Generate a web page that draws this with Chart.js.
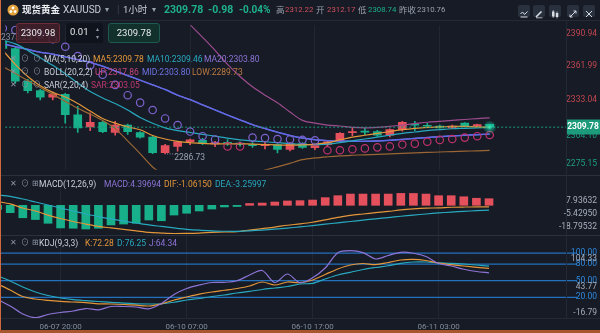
<!DOCTYPE html>
<html lang="zh">
<head>
<meta charset="utf-8">
<title>现货黄金 XAUUSD 1小时</title>
<script src="https://cdn.jsdelivr.net/npm/chart.js@4.4.1/dist/chart.umd.min.js"></script>
<style>
  html, body { margin: 0; padding: 0; }
  body { width: 600px; height: 333px; position: relative; overflow: hidden; background: #161b26;
         font-family: Roboto, "Noto Sans CJK SC", sans-serif; color: #d3d7df; }
  canvas { position: absolute; left: 0; }
  #mainChart { top: 20px; }
  #macdChart { top: 175px; }
  #kdjChart { top: 235px; }
  .t { position: absolute; white-space: nowrap; font-size: 8.5px; line-height: 12px; }
  .h { position: absolute; top: 4px; white-space: nowrap; line-height: 12px; }
  .q { font-size: 7.8px; }
  .ico { color: #8d95a4; font-size: 8px; }
  .hl { position: absolute; left: 0; width: 600px; height: 1px; background: #232935; }
  .btn { position: absolute; top: 5px; width: 12px; height: 12px; background: #2a313e; border-radius: 2px; }
  .box { position: absolute; top: 23px; height: 20px; border-radius: 3px; box-sizing: border-box;
         font-size: 9.5px; line-height: 18px; text-align: center; color: #e6e8ec; }
</style>
</head>
<body>
<canvas id="mainChart" width="600" height="155"></canvas>
<canvas id="macdChart" width="600" height="60"></canvas>
<canvas id="kdjChart" width="600" height="98"></canvas>

<!-- frame lines -->
<div class="hl" style="top:20px"></div>
<div class="hl" style="top:175px;background:#2a303c"></div>
<div class="hl" style="top:235px;background:#2a303c"></div>
<div class="hl" style="top:318px"></div>
<div style="position:absolute;left:566px;top:20px;width:1px;height:298px;background:#222834"></div>
<div style="position:absolute;left:0;top:0;width:1px;height:333px;background:#cf6a3e"></div>
<div style="position:absolute;left:0;top:330px;width:600px;height:3px;background:#a9552d"></div>

<!-- header -->
<div class="h" style="left:7px;top:4px"><svg width="12" height="12"><circle cx="6" cy="6" r="5.5" fill="#e3a13b"/><circle cx="6" cy="4" r="1.4" fill="#fff"/><circle cx="3.9" cy="7.6" r="1.4" fill="#fff"/><circle cx="8.1" cy="7.6" r="1.4" fill="#fff"/></svg></div>
<div class="h" style="left:22px;font-size:9.5px;font-weight:bold;color:#eef0f4">现货黄金</div>
<div class="h" style="left:63px;font-size:10px;color:#c9cdd6">XAUUSD</div>
<div class="h" style="left:105px;font-size:8px;color:#9aa1ae">▾</div>
<div class="h" style="left:117px;font-size:10px;color:#3d4452">|</div>
<div class="h" style="left:123px;font-size:9.5px;color:#c9cdd6">1小时</div>
<div class="h" style="left:152px;font-size:8px;color:#9aa1ae">▾</div>
<div class="h" style="left:164px;font-size:10.5px;font-weight:bold;color:#1fb08c">2309.78</div>
<div class="h" style="left:208px;font-size:10.5px;font-weight:bold;color:#1fb08c">-0.98</div>
<div class="h" style="left:239px;font-size:10px;font-weight:bold;color:#1fb08c">-0.04%</div>
<div class="h" style="left:276px;font-size:8.5px;color:#9aa1ae">高</div>
<div class="h q" style="left:285px;color:#d0505c">2312.22</div>
<div class="h" style="left:316px;font-size:8.5px;color:#9aa1ae">开</div>
<div class="h q" style="left:327px;color:#d0505c">2312.17</div>
<div class="h" style="left:358px;font-size:8.5px;color:#9aa1ae">低</div>
<div class="h q" style="left:368px;color:#1fb08c">2308.74</div>
<div class="h" style="left:399px;font-size:8.5px;color:#9aa1ae">昨收</div>
<div class="h q" style="left:417px;color:#9aa1ae">2310.76</div>

<div class="btn" style="left:518px"><svg width="12" height="12"><polyline points="2.5,6 4.5,4 6.5,6.5 9.5,3.5" fill="none" stroke="#d8dce4" stroke-width="1"/><line x1="2.5" y1="9" x2="9.5" y2="9" stroke="#d8dce4"/></svg></div>
<div class="btn" style="left:533px"><svg width="12" height="12"><line x1="3" y1="9" x2="8.5" y2="3.5" stroke="#d8dce4" stroke-width="1.6"/><line x1="3" y1="9.8" x2="9.5" y2="9.8" stroke="#d8dce4" stroke-width="0.8"/></svg></div>
<div class="btn" style="left:549px"><svg width="12" height="12"><rect x="3" y="3.5" width="2.5" height="5" fill="#d8dce4"/><rect x="6.8" y="5" width="2.5" height="4" fill="#d8dce4"/><line x1="4.25" y1="2" x2="4.25" y2="10" stroke="#d8dce4" stroke-width="0.7"/><line x1="8.05" y1="3.5" x2="8.05" y2="10.5" stroke="#d8dce4" stroke-width="0.7"/></svg></div>
<div class="btn" style="left:567px"><svg width="12" height="12"><line x1="3" y1="9" x2="9" y2="3" stroke="#d8dce4" stroke-width="1"/><polyline points="6.5,3 9,3 9,5.5" fill="none" stroke="#d8dce4"/><polyline points="3,6.5 3,9 5.5,9" fill="none" stroke="#d8dce4"/></svg></div>
<div class="btn" style="left:583px"><svg width="12" height="12"><line x1="3" y1="3" x2="9" y2="9" stroke="#d8dce4"/><line x1="9" y1="3" x2="3" y2="9" stroke="#d8dce4"/></svg></div>

<!-- order boxes -->
<div class="t" style="left:1px;top:31px;color:#8a91a0">2373.23</div>
<div class="box" style="left:16px;width:44px;background:rgba(66,30,40,0.85);border:1px solid #6b2c38">2309.98</div>
<div class="box" style="left:66px;width:37px;background:#0f131b;text-align:left;padding-left:4px">0.01</div>
<div class="t" style="left:96px;top:23px;font-size:6px;color:#8d95a4">▴</div>
<div class="t" style="left:96px;top:31px;font-size:6px;color:#8d95a4">▾</div>
<div class="box" style="left:108px;width:52px;background:#12302c;border:1px solid #1f5a50">2309.78</div>

<!-- main legend -->
<div class="t ico" style="left:10px;top:53px">✕</div><div class="t ico" style="left:21px;top:53px">⊙</div><div class="t ico" style="left:33px;top:53px">⊙</div>
<div class="t" style="left:44px;top:53px;color:#c9ced8">MA(5,10,20)</div>
<div class="t" style="left:93px;top:53px;color:#e3963a">MA5:2309.78</div>
<div class="t" style="left:147px;top:53px;color:#28a9bf">MA10:2309.46</div>
<div class="t" style="left:204px;top:53px;color:#8e74d6">MA20:2303.80</div>

<div class="t ico" style="left:10px;top:66px">✕</div><div class="t ico" style="left:21px;top:66px">⊙</div><div class="t ico" style="left:33px;top:66px">⊙</div>
<div class="t" style="left:44px;top:66px;color:#c9ced8">BOLL(20,2,2)</div>
<div class="t" style="left:95px;top:66px;color:#c8477c">UP:2317.86</div>
<div class="t" style="left:142px;top:66px;color:#6f72e3">MID:2303.80</div>
<div class="t" style="left:192px;top:66px;color:#bf7a3f">LOW:2289.73</div>

<div class="t ico" style="left:10px;top:79px">✕</div><div class="t ico" style="left:21px;top:79px">⊙</div><div class="t ico" style="left:33px;top:79px">⊙</div>
<div class="t" style="left:44px;top:79px;color:#c9ced8">SAR(2,20,4)</div>
<div class="t" style="left:91px;top:79px;color:#c23a6f">SAR:2303.05</div>

<!-- MACD legend -->
<div class="t ico" style="left:10px;top:178px">✕</div><div class="t ico" style="left:21px;top:178px">⊙</div><div class="t ico" style="left:32px;top:178px">⊞</div>
<div class="t" style="left:39px;top:178px;color:#c9ced8">MACD(12,26,9)</div>
<div class="t" style="left:104px;top:178px;color:#8e74d6">MACD:4.39694</div>
<div class="t" style="left:164px;top:178px;color:#e3963a">DIF:-1.06150</div>
<div class="t" style="left:215px;top:178px;color:#28a9bf">DEA:-3.25997</div>

<!-- KDJ legend -->
<div class="t ico" style="left:10px;top:237px">✕</div><div class="t ico" style="left:21px;top:237px">⊙</div><div class="t ico" style="left:32px;top:237px">⊞</div>
<div class="t" style="left:39px;top:237px;color:#c9ced8">KDJ(9,3,3)</div>
<div class="t" style="left:85px;top:237px;color:#e3963a">K:72.28</div>
<div class="t" style="left:117px;top:237px;color:#28a9bf">D:76.25</div>
<div class="t" style="left:149px;top:237px;color:#8e74d6">J:64.34</div>

<script>
// Hourly XAUUSD candles, oldest first (first one is cut by the left edge)
const opens  = [2384.0, 2377.5, 2349.4, 2341.3, 2335.7, 2338.1, 2320.5, 2309.9, 2314.0, 2305.2,
                2311.6, 2305.2, 2301.2, 2287.8, 2293.2, 2297.2, 2298.4, 2295.4, 2296.8, 2296.0,
                2294.8, 2293.8, 2294.8, 2290.7, 2295.6, 2292.2, 2294.6, 2298.0, 2305.0, 2306.4,
                2306.0, 2302.8, 2307.6, 2312.4, 2311.4, 2310.8, 2309.2, 2313.2, 2310.6, 2312.17];
const highs  = [2386.5, 2379.2, 2351.0, 2342.4, 2340.0, 2339.0, 2327.7, 2322.1, 2315.0, 2314.8,
                2312.5, 2306.0, 2302.0, 2295.0, 2297.6, 2299.6, 2300.2, 2297.6, 2299.0, 2297.2,
                2296.6, 2297.0, 2295.6, 2296.6, 2296.6, 2293.6, 2298.4, 2305.2, 2309.2, 2309.0,
                2307.0, 2308.4, 2314.8, 2314.8, 2313.0, 2311.6, 2311.6, 2313.8, 2312.4, 2312.22];
const lows   = [2376.0, 2347.5, 2339.2, 2333.3, 2333.3, 2313.2, 2305.2, 2306.8, 2305.0, 2302.8,
                2303.6, 2300.4, 2287.0, 2286.73, 2289.1, 2294.6, 2294.8, 2293.0, 2294.0, 2293.4,
                2292.4, 2291.0, 2287.6, 2289.4, 2291.4, 2290.4, 2293.4, 2297.0, 2302.4, 2303.4,
                2301.8, 2301.4, 2306.4, 2306.8, 2309.2, 2309.0, 2308.4, 2310.0, 2310.0, 2308.74];
const closes = [2377.5, 2349.4, 2341.3, 2335.7, 2338.1, 2320.5, 2309.2, 2314.0, 2306.0, 2311.6,
                2306.0, 2301.2, 2287.8, 2293.9, 2297.2, 2298.8, 2295.6, 2296.4, 2295.9, 2295.0,
                2293.9, 2294.7, 2290.7, 2295.6, 2292.4, 2294.0, 2297.2, 2304.4, 2306.0, 2305.4,
                2302.8, 2307.6, 2314.0, 2311.4, 2310.6, 2309.2, 2310.8, 2310.6, 2312.0, 2309.78];

const ma5  = [2376.0, 2363.8, 2353.4, 2345.4, 2339.7, 2335.7, 2330.1, 2323.7, 2317.3, 2313.2,
              2310.0, 2307.6, 2302.6, 2299.6, 2297.6, 2296.4, 2295.8, 2295.4, 2295.4, 2295.4,
              2295.2, 2294.8, 2294.4, 2294.4, 2294.6, 2295.2, 2296.4, 2298.8, 2301.2, 2302.8,
              2304.4, 2306.0, 2307.6, 2308.8, 2309.6, 2310.0, 2310.4, 2310.4, 2310.0, 2309.78];
const ma10 = [2384.7, 2381.5, 2375.9, 2369.5, 2363.0, 2355.8, 2347.8, 2340.5, 2334.9, 2330.1,
              2324.5, 2318.1, 2313.2, 2309.2, 2306.8, 2305.2, 2303.6, 2302.0, 2300.4, 2298.8,
              2298.0, 2297.2, 2296.4, 2295.6, 2294.8, 2294.8, 2295.2, 2296.4, 2298.0, 2299.6,
              2301.2, 2302.8, 2304.4, 2305.6, 2306.8, 2307.6, 2308.4, 2308.8, 2309.2, 2309.46];
const bollMid = [2381.5, 2379.1, 2376.7, 2374.3, 2372.7, 2370.3, 2367.9, 2365.5, 2362.2, 2358.2,
                 2354.2, 2350.2, 2346.2, 2342.2, 2337.3, 2333.5, 2329.0, 2324.6, 2320.2, 2316.0,
                 2312.0, 2308.6, 2305.4, 2302.6, 2300.4, 2299.0, 2298.2, 2297.8, 2297.6, 2297.6,
                 2297.9, 2298.5, 2299.3, 2300.1, 2300.9, 2301.6, 2302.2, 2302.8, 2303.3, 2303.80];
const ma20 = bollMid; // MA20 and BOLL MID are the same 20-period average
const bollUp  = [2401.0, 2402.0, 2403.0, 2405.0, 2407.0, 2408.5, 2410.0, 2410.0, 2409.0, 2408.0,
                 2410.0, 2413.0, 2416.0, 2416.0, 2410.0, 2398.0, 2387.1, 2375.9, 2363.8, 2353.4,
                 2344.5, 2337.3, 2330.9, 2322.8, 2315.6, 2313.2, 2311.6, 2310.8, 2309.6, 2309.2,
                 2309.6, 2310.4, 2311.6, 2312.8, 2314.0, 2314.8, 2315.6, 2316.4, 2317.2, 2317.86];
const bollLow = [2362.0, 2356.0, 2350.0, 2344.0, 2338.0, 2332.0, 2326.0, 2321.0, 2315.5, 2308.5,
                 2298.0, 2287.0, 2275.5, 2268.0, 2262.5, 2259.0, 2257.5, 2258.5, 2261.5, 2265.5,
                 2269.5, 2272.8, 2275.6, 2278.6, 2281.8, 2283.3, 2284.3, 2285.1, 2285.6, 2286.0,
                 2286.4, 2286.8, 2287.2, 2287.6, 2288.0, 2288.4, 2288.8, 2289.1, 2289.4, 2289.73];
const sar = [2395.0, 2393.5, 2391.9, 2389.5, 2385.5, 2379.0, 2371.0, 2363.0, 2355.0, 2346.2,
             2337.3, 2330.9, 2324.5, 2317.3, 2311.6, 2306.0, 2302.0, 2299.2, 2293.2, 2293.2,
             2300.8, 2300.4, 2299.6, 2299.2, 2298.8, 2298.4, 2289.9, 2289.9, 2290.7, 2291.5,
             2292.4, 2293.2, 2294.8, 2295.6, 2297.2, 2298.8, 2299.6, 2300.8, 2302.0, 2303.05];

// MACD(12,26,9)
const macdHist = [-2.8, -4.9, -8.3, -9.5, -12.0, -15.1, -15.3, -15.8, -15.3, -13.1,
                  -12.5, -12.0, -9.8, -10.3, -6.5, -5.3, -3.8, -2.5, -1.1, -0.8,
                  1.2, 1.5, 2.2, 2.9, 3.1, 3.5, 5.1, 6.4, 7.5, 7.5,
                  7.5, 7.5, 7.93632, 7.9, 7.5, 6.4, 6.4, 5.7, 4.7, 4.39694];
const dif = [2.5, 0.9, -1.8, -3.8, -6.5, -8.8, -10.8, -12.5, -14.1, -15.1,
             -16.1, -17.1, -18.1, -18.5, -18.79532, -18.7, -18.5, -18.1, -17.8, -17.5,
             -16.5, -15.5, -14.5, -13.3, -12.4, -11.3, -9.7, -8.1, -6.7, -5.8,
             -4.9, -4.1, -3.1, -2.4, -1.9, -1.7, -1.3, -1.15, -1.1, -1.0615];
const dea = [6.9, 5.9, 4.2, 2.2, 0.2, -1.8, -3.8, -5.8, -7.5, -9.1,
             -10.5, -11.8, -13.1, -14.1, -15.1, -16.0, -16.6, -17.0, -17.3, -17.4,
             -17.0, -16.5, -15.9, -15.2, -14.4, -13.5, -12.6, -11.7, -10.8, -9.9,
             -9.0, -8.2, -7.3, -6.5, -5.8, -5.1, -4.5, -4.0, -3.6, -3.25997];

// KDJ(9,3,3)
const kLine = [44.1, 33.2, 21.4, 16.9, 14.6, 12.8, 11.5, 10.2, 8.2, 7.9,
               7.0, 5.7, 4.3, 8.2, 15.1, 20.5, 25.6, 29.6, 32.7, 35.9,
               40.4, 47.7, 42.2, 47.7, 46.4, 51.3, 61.2, 71.2, 78.4, 81.1,
               79.0, 82.9, 87.5, 88.7, 86.5, 81.7, 79.0, 76.6, 74.2, 72.28];
const dLine = [58.5, 49.5, 38.6, 29.6, 23.3, 18.7, 15.7, 13.9, 12.4, 11.0,
               9.3, 8.2, 7.9, 8.2, 11.0, 15.1, 17.8, 21.4, 24.2, 27.8,
               30.8, 34.1, 36.8, 39.5, 44.1, 45.3, 53.1, 60.3, 65.2, 70.3,
               73.9, 77.0, 81.5, 83.8, 83.8, 82.4, 81.5, 80.2, 78.4, 76.25];
const jLine = [16.0, 4.3, -10.2, -16.79, -11.1, -7.5, -4.8, -0.3, -2.6, 3.4,
               3.4, 2.5, -0.8, 8.8, 25.1, 35.9, 42.2, 46.8, 47.1, 50.0,
               60.3, 68.5, 46.8, 62.1, 46.4, 55.4, 73.0, 100.7, 104.33, 100.7,
               89.3, 95.6, 101.4, 99.6, 93.8, 81.1, 76.6, 70.7, 66.7, 64.34];

// axis labels
const timeTickIdx = [5, 15, 25, 35];
const timeLabels = ['06-07 20:00', '06-10 07:00', '06-10 17:00', '06-11 03:00'];
const priceTicks = [2390.94, 2361.99, 2333.04, 2304.10, 2275.15];
const macdTicks = [7.93632, -5.42950, -18.79532];
const kdjLevels = [100, 80, 50, 20];
const kdjRange = [104.33, 43.77, -16.79];

Chart.defaults.font.family = 'Roboto, "Noto Sans CJK SC", sans-serif';
Chart.defaults.animation = false;

const RED = '#e5505d', GREEN = '#17b08a';
const ORANGE = '#e3963a', TEAL = '#28a9bf', PURPLE = '#8e74d6';
const X_MIN = 0.19, X_MAX = 45.11;
const lastIdx = closes.length - 1;
const idx = closes.map((_, i) => i);
const pts = arr => arr.map((v, i) => ({ x: i, y: v }));

function xAxis(showLabels) {
    return {
        type: 'linear', min: X_MIN, max: X_MAX, offset: false,
        afterBuildTicks: s => { s.ticks = timeTickIdx.map(v => ({ value: v })); },
        grid: { color: 'rgba(255,255,255,0.05)', drawTicks: false, offset: false },
        border: { display: false },
        ticks: {
            display: showLabels, autoSkip: false, maxRotation: 0, padding: 4,
            color: '#858d9c', font: { size: 8 },
            callback: (v, i) => timeLabels[i]
        },
        afterFit: s => { s.height = showLabels ? 15 : 0; }
    };
}

function yAxis(min, max) {
    return {
        type: 'linear', position: 'right', min, max,
        grid: { display: false }, border: { display: false },
        ticks: { display: false },
        afterFit: s => { s.width = 34; }
    };
}

function line(data, color, width, order) {
    return { type: 'line', data: pts(data), borderColor: color, borderWidth: width || 1.2,
             pointRadius: 0, tension: 0.3, fill: false, order };
}

// right-hand labels, placed through the panel's y scale
function sideLabels(items) {
    return {
        id: 'sideLabels',
        afterDraw(chart) {
            const { ctx, scales: { y } } = chart;
            ctx.save();
            ctx.font = '8.5px Roboto';
            ctx.textAlign = 'right';
            ctx.textBaseline = 'middle';
            items.forEach(it => {
                ctx.fillStyle = it.color;
                ctx.fillText(it.text, 597, y.getPixelForValue(it.value) + (it.shift || 0));
            });
            ctx.restore();
        }
    };
}

// price line, glowing last close, lowest-low label and the price tag
const mainExtras = {
    id: 'mainExtras',
    afterDatasetsDraw(chart) {
        const { ctx, chartArea: a, scales: { x, y } } = chart;
        const py = y.getPixelForValue(closes[lastIdx]);
        ctx.save();
        ctx.strokeStyle = '#1d9a7c';
        ctx.lineWidth = 1;
        ctx.setLineDash([2, 2]);
        ctx.beginPath(); ctx.moveTo(a.left, py); ctx.lineTo(a.right, py); ctx.stroke();

        const li = lows.indexOf(Math.min(...lows));
        const lx = x.getPixelForValue(li), ly = y.getPixelForValue(lows[li]);
        ctx.strokeStyle = '#8b93a3';
        ctx.setLineDash([1, 1.5]);
        ctx.beginPath(); ctx.moveTo(lx + 2, ly); ctx.lineTo(lx + 9, ly); ctx.stroke();
        ctx.setLineDash([]);
        ctx.fillStyle = '#9aa2b1';
        ctx.font = '8.5px Roboto';
        ctx.textAlign = 'left';
        ctx.textBaseline = 'middle';
        ctx.fillText(lows[li].toFixed(2), lx + 9, ly + 3.5);

        const gx = x.getPixelForValue(lastIdx);
        const g = ctx.createRadialGradient(gx, py, 0, gx, py, 7);
        g.addColorStop(0, 'rgba(60,240,190,1)');
        g.addColorStop(0.35, 'rgba(30,200,160,0.6)');
        g.addColorStop(1, 'rgba(30,200,160,0)');
        ctx.fillStyle = g;
        ctx.beginPath(); ctx.arc(gx, py, 7, 0, Math.PI * 2); ctx.fill();
        ctx.restore();
    },
    afterDraw(chart) {
        const { ctx, scales: { y } } = chart;
        const py = y.getPixelForValue(closes[lastIdx]);
        ctx.save();
        ctx.fillStyle = '#1c9a7a';
        ctx.fillRect(566, Math.round(py) - 7.5, 34, 15);
        ctx.fillStyle = '#ffffff';
        ctx.font = 'bold 8.5px Roboto';
        ctx.textAlign = 'center';
        ctx.textBaseline = 'middle';
        ctx.fillText(closes[lastIdx].toFixed(2), 583, py);
        ctx.restore();
    }
};

const kdjLevelLines = {
    id: 'kdjLevelLines',
    beforeDatasetsDraw(chart) {
        const { ctx, chartArea: a, scales: { y } } = chart;
        ctx.save();
        ctx.strokeStyle = '#2371bd';
        ctx.lineWidth = 1.2;
        kdjLevels.forEach(v => {
            const py = y.getPixelForValue(v);
            ctx.beginPath(); ctx.moveTo(a.left, py); ctx.lineTo(577, py); ctx.stroke();
        });
        ctx.restore();
    }
};

const candleColor = c => closes[c.dataIndex] >= opens[c.dataIndex] ? RED : GREEN;
const lastClose = closes[lastIdx];

// main panel: candles + MA + BOLL + SAR
new Chart(document.getElementById('mainChart'), {
    type: 'line',
    data: {
        datasets: [
            { type: 'bar', data: idx.map(i => ({ x: i, y: [lows[i], highs[i]] })),
              backgroundColor: candleColor, barThickness: 1, grouped: false, order: 10 },
            { type: 'bar', data: idx.map(i => ({ x: i, y: [opens[i], closes[i]] })),
              backgroundColor: candleColor, barThickness: 8, minBarLength: 1, grouped: false, order: 9 },
            line(bollLow, '#9b6634', 1.2, 8),
            line(bollUp, '#9e4c8e', 1.2, 7),
            line(ma20, PURPLE, 1.2, 7),
            line(bollMid, '#5d69e6', 1.4, 6),
            line(ma10, TEAL, 1.2, 5),
            line(ma5, ORANGE, 1.2, 4),
            { type: 'line', data: pts(sar), showLine: false, order: 1,
              pointRadius: 3.7, pointBorderWidth: 1.2, pointBackgroundColor: 'rgba(0,0,0,0)',
              pointBorderColor: c => sar[c.dataIndex] > closes[c.dataIndex] ? '#7d63cf' : '#c0326c' }
        ]
    },
    options: {
        responsive: false, events: [],
        layout: { padding: 0 },
        plugins: { legend: { display: false }, tooltip: { enabled: false } },
        scales: { x: xAxis(false), y: yAxis(2273.07, 2397.57) }
    },
    plugins: [mainExtras, sideLabels(priceTicks.map((v, i) => ({
        value: v, text: v.toFixed(2),
        color: v > lastClose ? '#c2464f' : '#1e9f80',
        shift: [1, -1, 0, 2.5, -3.5][i]
    })))]
});

// MACD panel
new Chart(document.getElementById('macdChart'), {
    type: 'line',
    data: {
        datasets: [
            { type: 'bar', data: pts(macdHist), barThickness: 8, grouped: false, order: 3,
              backgroundColor: c => macdHist[c.dataIndex] >= 0 ? RED : GREEN },
            line(dif, ORANGE, 1.2, 2),
            line(dea, TEAL, 1.2, 1)
        ]
    },
    options: {
        responsive: false, events: [],
        layout: { padding: 0 },
        plugins: { legend: { display: false }, tooltip: { enabled: false } },
        scales: { x: xAxis(false), y: yAxis(-19.8, 20.2) }
    },
    plugins: [sideLabels(macdTicks.map((v, i) => ({
        value: v, text: v.toFixed(5), color: '#a9b0bd', shift: [7.5, 0, -6.5][i]
    })))]
});

// KDJ panel (carries the time axis)
new Chart(document.getElementById('kdjChart'), {
    type: 'line',
    data: {
        datasets: [
            line(kLine, ORANGE, 1.2, 2),
            line(dLine, TEAL, 1.2, 3),
            line(jLine, PURPLE, 1.2, 1)
        ]
    },
    options: {
        responsive: false, events: [],
        layout: { padding: 0 },
        plugins: { legend: { display: false }, tooltip: { enabled: false } },
        scales: { x: xAxis(true), y: yAxis(-17.43, 132.66) }
    },
    plugins: [kdjLevelLines, sideLabels(
        kdjLevels.map(v => ({ value: v, text: v.toFixed(2), color: '#2e88dc' }))
        .concat(kdjRange.map((v, i) => ({
            value: v, text: v.toFixed(2), color: '#a3abb9', shift: [8.5, 3, -4.5][i]
        }))))]
});
</script>
</body>
</html>
